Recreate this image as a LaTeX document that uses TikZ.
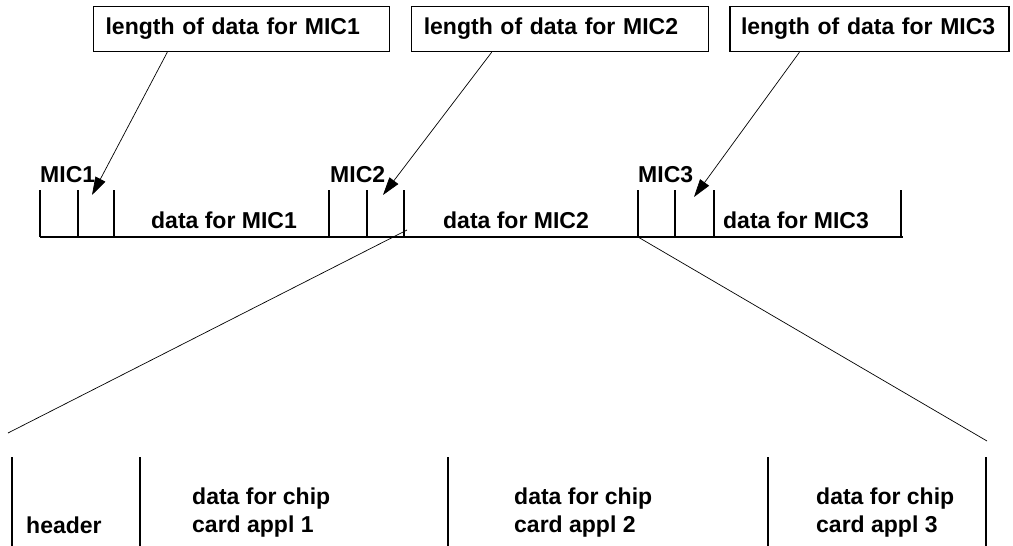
\documentclass[tikz,border=0pt]{standalone}
\usepackage{fontspec}
\setmainfont{Liberation Sans}
\usetikzlibrary{positioning}
\usetikzlibrary{arrows.meta}
\usetikzlibrary{calc}
\newcommand\lbl{\fontsize{23}{28}\selectfont\bfseries}
\tikzset{x=1pt, y=-1pt,
lenbox/.style={
draw,
line width=1.2pt,
minimum height=45pt,
inner xsep=12pt,
inner ysep=0pt,
align=left,
font=\lbl},
lbl/.style={inner sep=0pt, font=\lbl},
pointer/.style={
draw,
line width=0.7pt,
-{Triangle[length=18pt,width=11pt]}},
bar/.style={line width=1.2pt},
zoomline/.style={line width=0.7pt}}

\begin{document}
\begin{tikzpicture}
\useasboundingbox (0,0) rectangle (1013,546);
% length boxes
\node[lenbox, anchor=north west, text width=272pt] (len1) at (93,6) {length of data for MIC1};
\node[lenbox, text width=273pt, right=21pt of len1] (len2) {length of data for MIC2};
\node[lenbox, text width=257pt, inner xsep=11pt, right=20pt of len2] (len3) {length of data for MIC3};
% frame
\draw[bar] (40,237) -- (903,237);
\draw[bar] (40,190) -- (40,237) (78,190) -- (78,237) (114,190) -- (114,237)
(329,190) -- (329,237) (367,190) -- (367,237) (404,190) -- (404,237)
(638,190) -- (638,237) (675,190) -- (675,237) (714,190) -- (714,237)
(901,190) -- (901,237);
\node[lbl, anchor=base west] (mic1) at (40,182) {MIC1};
\node[lbl, anchor=base west] (mic2) at (330,182) {MIC2};
\node[lbl, anchor=base west] (mic3) at (638,182) {MIC3};
\node[lbl, anchor=base] (dat1) at (224,228) {data for MIC1};
\node[lbl, anchor=base] (dat2) at (516,228) {data for MIC2};
\node[lbl, anchor=base] (dat3) at (796,228) {data for MIC3};
% pointers
\coordinate (tip1) at (92,195);
\coordinate (tip2) at (383,195);
\coordinate (tip3) at (694,197);
\draw[pointer] ($(len1.south west)!.25!(len1.south east)$) -- (tip1);
\draw[pointer] ($(len2.south west)!.27!(len2.south east)$) -- (tip2);
\draw[pointer] ($(len3.south west)!.25!(len3.south east)$) -- (tip3);
% zoom into MIC2
\coordinate (zl) at (407,230);
\coordinate (zr) at (638,237);
\coordinate (zlend) at (8,433);
\coordinate (zrend) at (987,441);
\draw[zoomline] (zl) -- (zlend);
\draw[zoomline] (zr) -- (zrend);
% applications
\draw[bar] (12,457) -- (12,546) (140,457) -- (140,546) (448,457) -- (448,546)
(768,457) -- (768,546) (986,457) -- (986,546);
\node[lbl, anchor=base west] (head) at (26,533) {header};
\node[lbl, anchor=north west, align=left] (app1) at (192,488) {data for chip\\card appl 1};
\node[lbl, anchor=north west, align=left] (app2) at (514,488) {data for chip\\card appl 2};
\node[lbl, anchor=north west, align=left] (app3) at (816,488) {data for chip\\card appl 3};
\end{tikzpicture}
\end{document}
